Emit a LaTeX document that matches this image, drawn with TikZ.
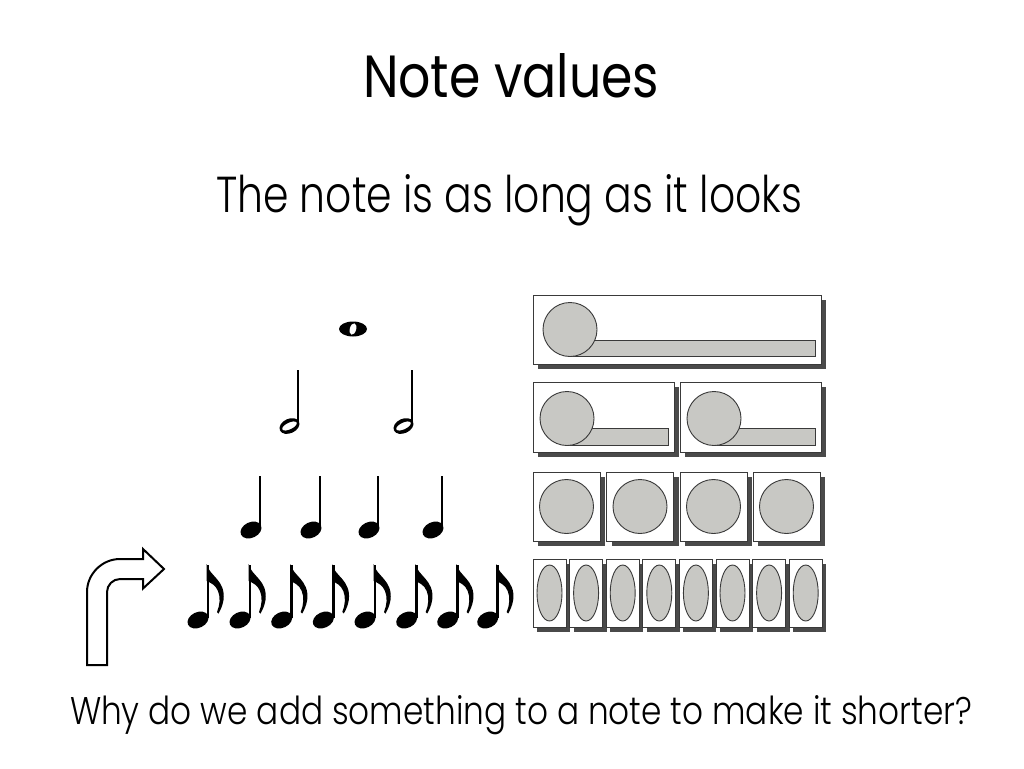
\documentclass[tikz,border=0pt]{standalone}
\usepackage{graphicx}
\usepackage{fontspec}
\setmainfont{Poppins}
\newfontfamily\lightfont{Poppins Light}
\definecolor{shadowgray}{HTML}{4A4A4A}
\definecolor{notegray}{HTML}{C8C8C4}
\definecolor{edgegray}{HTML}{3A3A3A}
\tikzset{
  boxshadow/.style={fill=shadowgray, draw=none},
  valuebox/.style={fill=white, draw=edgegray, line width=0.9pt},
  valueshape/.style={fill=notegray, draw=edgegray, line width=0.9pt},
  txt/.style={anchor=base west, inner sep=0pt, outer sep=0pt},
  stem/.style={line width=2.6pt, line cap=butt},
  bentarrow/.style={fill=white, draw=black, line width=2pt, line join=miter}
}
\newcommand{\valbox}[4]{% x1 y1 x2 y2
  \fill[boxshadow] (#1+5,#2+5) rectangle (#3+5,#4+5);
  \draw[valuebox] (#1,#2) rectangle (#3,#4);}
\newcommand{\quarterhead}[2]{%
  \begin{scope}[shift={(#1,#2)}, rotate=25]
    \fill (0,0) ellipse [x radius=11, y radius=7.8];
  \end{scope}}
\newcommand{\halfnote}[2]{% stem x, head y
  \begin{scope}[shift={(#1-8.5,#2)}, rotate=25]
    \fill[even odd rule] (0,0) ellipse [x radius=10.5, y radius=7.2]
      (0,0) ellipse [x radius=8, y radius=3.4];
  \end{scope}
  \draw[stem, line width=2.2pt] (#1,#2-2) -- (#1,370);}
\newcommand{\quarternote}[1]{%
  \quarterhead{#1-9}{530}
  \draw[stem] (#1,528) -- (#1,476);}
\newcommand{\eighthnote}[1]{%
  \quarterhead{#1-10}{620}
  \draw[stem] (#1,618) -- (#1,565);
  \fill (#1-1.3,564) .. controls (#1+1,576) and (#1+18,580) .. (#1+15.5,600)
     .. controls (#1+14.5,606) and (#1+12.5,610) .. (#1+10.5,613.5)
     -- (#1+9,612) .. controls (#1+12,605) and (#1+12.5,597) .. (#1+10,591)
     .. controls (#1+7.5,585) and (#1+3,583) .. (#1-1.3,581) -- cycle;}
\begin{document}
\begin{tikzpicture}[x=1pt,y=-1pt]
\useasboundingbox (0,0) rectangle (1024,768);
\fill[white] (0,0) rectangle (1024,768);

% texts
\node[txt] (title) at (363,97) {\resizebox{296pt}{44pt}{Note values}};
\node[txt] (subtitle) at (216,212) {\resizebox{586pt}{38pt}{\lightfont The note is as long as it looks}};
\node[txt] (question) at (70,724) {\resizebox{902pt}{29pt}{\lightfont Why do we add something to a note to make it shorter?}};

% whole note
\fill (353,329) ellipse [x radius=14, y radius=7.5];
\begin{scope}[shift={(353,329)}, rotate=-15]
  \fill[white] (0,0) ellipse [x radius=3.2, y radius=5.8];
\end{scope}

% half notes
\halfnote{298}{426}
\halfnote{412}{426}

% quarter notes
\foreach \s in {260,320,378,442} {\quarternote{\s}}

% eighth notes
\foreach \s in {208,250,291.7,333.3,375,416.7,457.7,497.7} {\eighthnote{\s}}

% bent arrow
\draw[bentarrow] (87,665) -- (87,592) .. controls (87,574) and (102,559) .. (120,559)
  -- (143,559) -- (143,549) -- (164,569) -- (143,588.5) -- (143,579) -- (120,579)
  .. controls (113,579) and (107,585) .. (107,592) -- (107,665) -- cycle;

% row 1: whole
\valbox{533}{295}{821}{364}
\draw[valueshape] (570,340) rectangle (815,356.5);
\draw[valueshape] (570,329.5) circle [radius=27];

% row 2: halves
\foreach \a/\b in {533/674, 680/821} {
  \valbox{\a}{382}{\b}{452}
  \draw[valueshape] (\a+34,428) rectangle (\b-6,445.5);
  \draw[valueshape] (\a+34,418.5) circle [radius=27];
}

% row 3: quarters
\foreach \a in {533,606.5,680,753} {
  \valbox{\a}{472}{\a+67}{541}
  \draw[valueshape] (\a+33.5,506.5) circle [radius=27];
}

% row 4: eighths
\foreach \i in {0,...,7} {
  \pgfmathsetmacro{\a}{533+36.6*\i}
  \fill[boxshadow] (\a+4,559+5) rectangle (\a+33+4,627+5);
  \draw[valuebox] (\a,559) rectangle (\a+33,627);
  \draw[valueshape] (\a+16.5,593) ellipse [x radius=12.5, y radius=28];
}
\end{tikzpicture}
\end{document}
